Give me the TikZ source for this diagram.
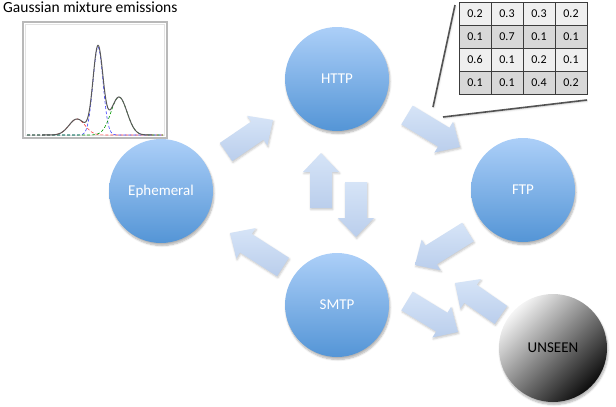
\documentclass[tikz,border=0pt]{standalone}
\usepackage{fontspec}
\setmainfont{Carlito}
\usetikzlibrary{calc,shadows.blur}

\definecolor{balltop}{RGB}{172,207,248}
\definecolor{ballbot}{RGB}{84,149,214}
\definecolor{arrtop}{RGB}{214,228,247}
\definecolor{arrbot}{RGB}{186,206,236}
\definecolor{celllight}{RGB}{239,239,239}
\definecolor{celldark}{RGB}{216,216,216}
\definecolor{gridline}{RGB}{60,60,60}

\tikzset{
  softshadow/.style={blur shadow={shadow xshift=1pt, shadow yshift=-2.5pt,
      shadow blur steps=6, shadow opacity=30}},
  state/.style={circle, minimum size=104pt, inner sep=0pt, text=white,
      font=\fontsize{15}{17}\selectfont, top color=balltop, bottom color=ballbot,
      softshadow},
  unseen/.style={circle, minimum size=108pt, inner sep=0pt, text=black,
      font=\fontsize{15}{17}\selectfont, shading=axis, top color=gray!8,
      bottom color=black!95, shading angle=45, softshadow},
  flowarrow/.style={top color=arrtop, bottom color=arrbot,
      blur shadow={shadow xshift=0.8pt, shadow yshift=-1.5pt,
      shadow blur steps=4, shadow opacity=22}},
  cell/.style={draw=gridline, line width=0.8pt, minimum width=32pt,
      minimum height=23pt, inner sep=0pt, font=\fontsize{12}{14}\selectfont},
  callout/.style={draw=gray!65!black, line width=1.6pt,
      blur shadow={shadow xshift=0.6pt, shadow yshift=-1pt,
      shadow blur steps=3, shadow opacity=25}},
  comp/.style={densely dashed, line width=0.6pt},
}

% block arrow from #1 (tail centre) to #2 (tip)
\newcommand{\blockarrow}[2]{%
  \coordinate (#1-#2-neck) at ($(#2)!19pt!(#1)$);
  \path[flowarrow]
    ($(#1)!11pt!90:(#2)$) -- ($(#1-#2-neck)!11pt!90:(#2)$)
    -- ($(#1-#2-neck)!18pt!90:(#2)$) -- (#2)
    -- ($(#1-#2-neck)!18pt!-90:(#2)$) -- ($(#1-#2-neck)!11pt!-90:(#2)$)
    -- ($(#1)!11pt!-90:(#2)$) -- cycle;}

\begin{document}
\begin{tikzpicture}[x=1pt, y=-1pt]
\useasboundingbox (0,0) rectangle (616,407);

% --- states ---
\node[state]  (http)  at (337,79)  {HTTP};
\node[state]  (eph)   at (161,191) {Ephemeral};
\node[state]  (ftp)   at (523,190) {FTP};
\node[state]  (smtp)  at (337,305) {SMTP};
\node[unseen] (uns)   at (553,348) {UNSEEN};

% --- transitions ---
\coordinate (eh-t) at (226,152); \coordinate (eh-h) at (273,120);
\coordinate (hf-t) at (407,115); \coordinate (hf-h) at (460,147);
\coordinate (fs-t) at (468,232); \coordinate (fs-h) at (415,265);
\coordinate (se-t) at (283,267); \coordinate (se-h) at (230,233);
\coordinate (sh-t) at (321,208); \coordinate (sh-h) at (321,153);
\coordinate (hs-t) at (356,182); \coordinate (hs-h) at (356,237);
\coordinate (su-t) at (407,301); \coordinate (su-h) at (458,332);
\coordinate (us-t) at (501,315); \coordinate (us-h) at (455,283);
\blockarrow{eh-t}{eh-h}
\blockarrow{hf-t}{hf-h}
\blockarrow{fs-t}{fs-h}
\blockarrow{se-t}{se-h}
\blockarrow{sh-t}{sh-h}
\blockarrow{hs-t}{hs-h}
\blockarrow{su-t}{su-h}
\blockarrow{us-t}{us-h}

% --- emission densities ---
\node[anchor=base west, inner sep=0pt, font=\fontsize{15.5}{18}\selectfont]
  (title) at (3,12) {Gaussian mixture emissions};
\draw[fill=white, draw=gray!55, line width=1.4pt] (23,22) rectangle (167,138);
\draw[draw=gray!22, line width=1pt] (25.5,24.5) rectangle (164.5,135.5);
\draw[comp, red!75] plot[domain=27:163, samples=90]
  (\x, {135-16*exp(-((\x-77)^2)/128)});
\draw[comp, blue!75] plot[domain=27:163, samples=140]
  (\x, {135-88*exp(-((\x-98)^2)/50)});
\draw[comp, green!60!black] plot[domain=27:163, samples=90]
  (\x, {135-38*exp(-((\x-119)^2)/128)});
\draw[black!65, line width=1pt] plot[domain=42:152, samples=160]
  (\x, {135-16*exp(-((\x-77)^2)/128)-88*exp(-((\x-98)^2)/50)-38*exp(-((\x-119)^2)/128)});

% --- transition matrix ---
\foreach \v [count=\i from 0] in
  {0.2,0.3,0.3,0.2, 0.1,0.7,0.1,0.1, 0.6,0.1,0.2,0.1, 0.1,0.1,0.4,0.2}{
  \pgfmathtruncatemacro\rw{int(\i/4)}
  \pgfmathtruncatemacro\cl{mod(\i,4)}
  \ifodd\rw \def\cellfill{celldark}\else\def\cellfill{celllight}\fi
  \node[cell, fill=\cellfill] (m-\rw-\cl) at ({475+32*\cl},{13.5+23*\rw}) {\v};
}
\coordinate (cl-a) at (433,107); \coordinate (cl-b) at (455,5);
\coordinate (cl-c) at (443,117); \coordinate (cl-d) at (587,100);
\draw[callout] (cl-a) -- (cl-b);
\draw[callout] (cl-c) -- (cl-d);
\end{tikzpicture}
\end{document}
